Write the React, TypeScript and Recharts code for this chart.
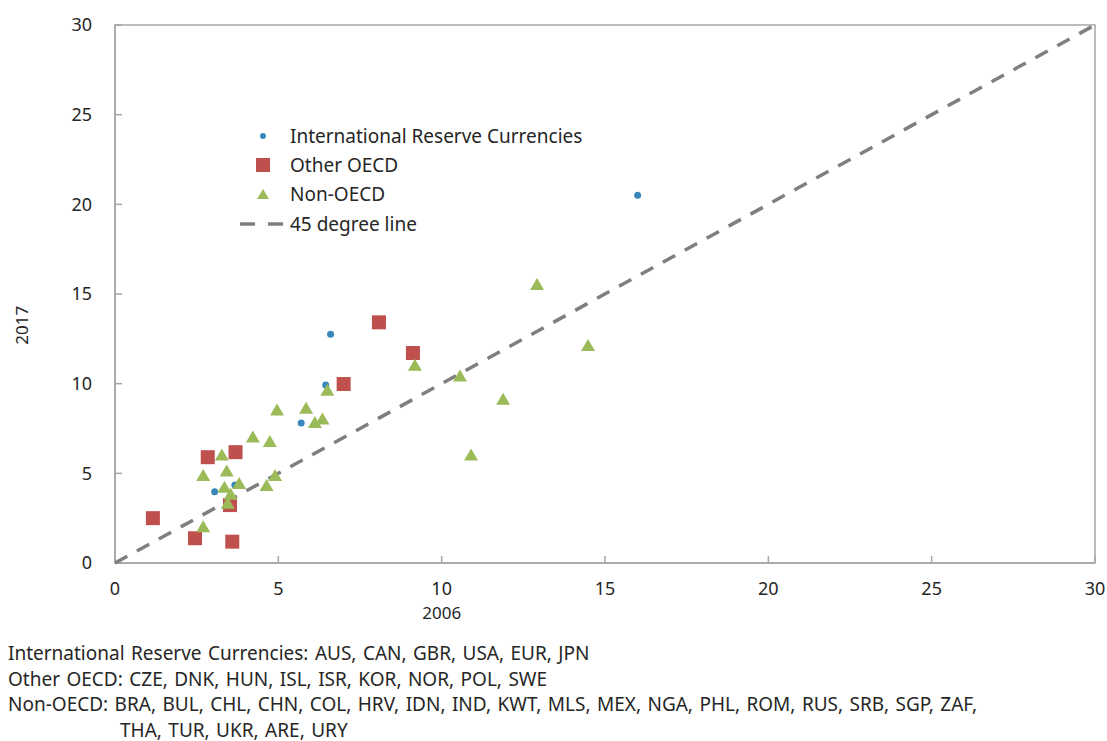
import { ScatterChart, Scatter, XAxis, YAxis, Legend, ReferenceArea } from "recharts";

const BLUE = "#3a88b9";
const RED = "#c0504d";
const GREEN = "#9bbb59";
const GRAY = "#7f7f7f";
const AXIS = "#a6a6a6";
const TEXT = "#262626";
const FONT = "'Noto Sans', 'Open Sans', sans-serif";

const ticks = [0, 5, 10, 15, 20, 25, 30];

// 2006 vs 2017 values per country group
const reserveCurrencies = [
  { x: 3.05, y: 3.98 },
  { x: 3.67, y: 4.35 },
  { x: 5.7, y: 7.8 },
  { x: 6.45, y: 9.93 },
  { x: 6.6, y: 12.75 },
  { x: 16.0, y: 20.5 },
];

const otherOecd = [
  { x: 1.16, y: 2.5 },
  { x: 2.45, y: 1.38 },
  { x: 3.59, y: 1.19 },
  { x: 2.84, y: 5.9 },
  { x: 3.69, y: 6.18 },
  { x: 3.52, y: 3.23 },
  { x: 7.0, y: 9.98 },
  { x: 8.08, y: 13.42 },
  { x: 9.12, y: 11.71 },
];

const nonOecd = [
  { x: 2.7, y: 2.0 },
  { x: 2.7, y: 4.85 },
  { x: 3.27, y: 6.0 },
  { x: 3.42, y: 5.1 },
  { x: 3.35, y: 4.2 },
  { x: 3.54, y: 3.8 },
  { x: 3.45, y: 3.3 },
  { x: 3.8, y: 4.4 },
  { x: 4.22, y: 7.0 },
  { x: 4.74, y: 6.75 },
  { x: 4.64, y: 4.3 },
  { x: 4.9, y: 4.85 },
  { x: 4.96, y: 8.5 },
  { x: 5.85, y: 8.6 },
  { x: 6.12, y: 7.8 },
  { x: 6.35, y: 8.0 },
  { x: 6.5, y: 9.6 },
  { x: 9.18, y: 11.0 },
  { x: 10.56, y: 10.4 },
  { x: 10.9, y: 6.0 },
  { x: 11.88, y: 9.1 },
  { x: 12.92, y: 15.5 },
  { x: 14.48, y: 12.1 },
];

const diagonal = [
  { x: 0, y: 0 },
  { x: 30, y: 30 },
];

const footnotes = [
  "International Reserve Currencies: AUS, CAN, GBR, USA, EUR, JPN",
  "Other OECD: CZE, DNK, HUN, ISL, ISR, KOR, NOR, POL, SWE",
  "Non-OECD: BRA, BUL, CHL, CHN, COL, HRV, IDN, IND, KWT, MLS, MEX, NGA, PHL, ROM, RUS, SRB, SGP, ZAF,",
  "THA, TUR, UKR, ARE, URY",
];

const DotShape = (p: any) => <circle cx={p.cx} cy={p.cy} r={3.5} fill={BLUE} />;
const SquareShape = (p: any) => (
  <rect x={p.cx - 7} y={p.cy - 7} width={14} height={14} fill={RED} />
);
const TriangleShape = (p: any) => (
  <polygon
    points={`${p.cx},${p.cy - 7} ${p.cx + 7},${p.cy + 5} ${p.cx - 7},${p.cy + 5}`}
    fill={GREEN}
  />
);
const NoShape = () => <g />;

const legendItems = [
  { label: "International Reserve Currencies", kind: "dot" },
  { label: "Other OECD", kind: "square" },
  { label: "Non-OECD", kind: "triangle" },
  { label: "45 degree line", kind: "dash" },
];

function LegendIcon({ kind }: { kind: string }) {
  return (
    <svg width={50} height={29} style={{ display: "block" }}>
      {kind === "dot" && <circle cx={23} cy={15} r={3} fill={BLUE} />}
      {kind === "square" && <rect x={16} y={8} width={14} height={14} fill={RED} />}
      {kind === "triangle" && <polygon points="23,9 29,19 17,19" fill={GREEN} />}
      {kind === "dash" && (
        <line x1={0} y1={15} x2={44} y2={15} stroke={GRAY} strokeWidth={3.5} strokeDasharray="15 13" />
      )}
    </svg>
  );
}

function renderLegend() {
  return (
    <div style={{ fontFamily: FONT, fontSize: 19, color: TEXT }}>
      {legendItems.map((it) => (
        <div key={it.label} style={{ display: "flex", alignItems: "center", height: 29.3 }}>
          <LegendIcon kind={it.kind} />
          <span>{it.label}</span>
        </div>
      ))}
    </div>
  );
}

// axis titles sit off-centre in the original
const XTitle = ({ viewBox }: any) => (
  <text
    x={viewBox.x + viewBox.width / 3}
    y={612}
    textAnchor="middle"
    dominantBaseline="central"
    style={{ fontFamily: FONT, fontSize: 17, fill: TEXT }}
  >
    2006
  </text>
);

const YTitle = ({ viewBox }: any) => {
  const cy = viewBox.y + viewBox.height * 0.558;
  return (
    <text
      x={22}
      y={cy}
      transform={`rotate(-90, 22, ${cy})`}
      textAnchor="middle"
      dominantBaseline="central"
      style={{ fontFamily: FONT, fontSize: 17, fill: TEXT }}
    >
      2017
    </text>
  );
};

export default function App() {
  const tickStyle = { fontFamily: FONT, fontSize: 18, fill: TEXT };
  return (
    <div style={{ position: "absolute", left: 0, top: 0, width: 1107, height: 741, background: "#fff" }}>
      <ScatterChart width={1107} height={640} margin={{ top: 25, right: 12, bottom: 17, left: 5 }}>
        <XAxis
          type="number"
          dataKey="x"
          domain={[0, 30]}
          ticks={ticks}
          tickSize={-7}
          tickMargin={26}
          stroke={AXIS}
          strokeWidth={1.5}
          tick={tickStyle}
          height={60}
          label={<XTitle />}
        />
        <YAxis
          type="number"
          dataKey="y"
          domain={[0, 30]}
          ticks={ticks}
          tickSize={-7}
          tickMargin={30}
          stroke={AXIS}
          strokeWidth={1.5}
          tick={tickStyle}
          width={110}
          label={<YTitle />}
        />
        <ReferenceArea x1={0} x2={30} y1={0} y2={30} fill="none" stroke={AXIS} strokeWidth={1.5} />
        <Scatter
          data={diagonal}
          shape={NoShape}
          line={{ stroke: GRAY, strokeWidth: 3.5, strokeDasharray: "14 11" }}
          isAnimationActive={false}
        />
        <Scatter data={reserveCurrencies} shape={DotShape} isAnimationActive={false} />
        <Scatter data={otherOecd} shape={SquareShape} isAnimationActive={false} />
        <Scatter data={nonOecd} shape={TriangleShape} isAnimationActive={false} />
        <Legend
          layout="vertical"
          align="center"
          verticalAlign="middle"
          content={renderLegend}
          wrapperStyle={{ position: "absolute", left: 240, top: 121, width: 400, bottom: "auto" }}
        />
      </ScatterChart>
      <div
        style={{
          position: "absolute",
          left: 8,
          top: 641,
          fontFamily: FONT,
          fontSize: 19,
          lineHeight: "25.5px",
          wordSpacing: 1.5,
          color: TEXT,
          whiteSpace: "nowrap",
        }}
      >
        {footnotes.map((t, i) => (
          <div key={i} style={{ paddingLeft: i === 3 ? 112 : 0 }}>
            {t}
          </div>
        ))}
      </div>
    </div>
  );
}
